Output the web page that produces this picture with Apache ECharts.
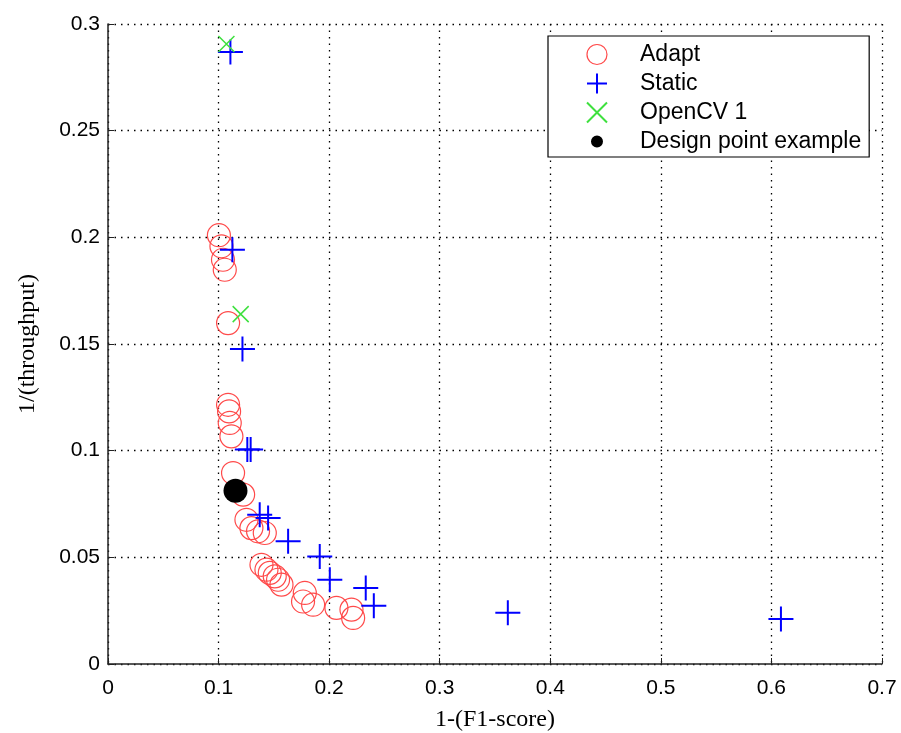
<!DOCTYPE html>
<html><head><meta charset="utf-8">
<script src="https://cdn.jsdelivr.net/npm/echarts@6/dist/echarts.min.js"></script>
<style>html,body{margin:0;padding:0;background:#fff}#c{width:901px;height:733px}</style>
</head><body><div id="c"></div>
<script>
const adaptX = [0.1003,0.1026,0.104,0.1056,0.1086,0.1086,0.1095,0.1101,0.1116,0.1131,0.1222,0.1252,0.1297,0.1357,0.1418,0.1388,0.1433,0.1463,0.1508,0.1538,0.1569,0.178,0.1764,0.1855,0.2066,0.2202,0.2217];
const adaptY = [0.201,0.1958,0.1895,0.1848,0.1598,0.1215,0.1184,0.113,0.1067,0.0895,0.0794,0.0676,0.0637,0.0622,0.0614,0.0465,0.0442,0.0427,0.0411,0.0395,0.0372,0.0333,0.0293,0.0278,0.0263,0.0255,0.0216];
const staticX = [0.1107,0.1125,0.1216,0.126,0.129,0.1372,0.1448,0.1629,0.1915,0.2006,0.2331,0.2404,0.3616,0.6086];
const staticY = [0.2869,0.1942,0.1477,0.1005,0.1005,0.070,0.0684,0.0575,0.0504,0.0395,0.0356,0.0273,0.024,0.0211];
const opencvX = [0.1071,0.120];
const opencvY = [0.2906,0.164];
const designX = [0.1153];
const designY = [0.0812];
const xTicks = [0,0.1,0.2,0.3,0.4,0.5,0.6,0.7];
const yTicks = [0,0.05,0.1,0.15,0.2,0.25,0.3];
const seriesNames = ['Adapt','Static','OpenCV 1','Design point example'];

const zip = (a,b) => a.map((v,i)=>[v,b[i]]);
const PLUS = 'path://M10,0 L10,20 M0,10 L20,10';
const CROSS = 'path://M0,0 L20,20 M20,0 L0,20';
const SMALL_DOT = 'path://M0,0 L0.01,0 M20,20 L20.01,20 M4,10 A6,6 0 1 1 16,10 A6,6 0 1 1 4,10 Z';
const grid = {left:108, top:24, right:19, bottom:69, containLabel:false, outerBoundsMode:'none'};
const splitLine = {show:true, lineStyle:{color:'#000', type:[1.5,5], width:1.3}};
const chart = echarts.init(document.getElementById('c'), null, {renderer:'canvas'});
chart.setOption({
  animation:false,
  backgroundColor:'#fff',
  grid: grid,
  legend: {
    orient:'vertical', left:548, top:36,
    data: [
      {name:seriesNames[0], itemStyle:{color:'rgba(255,255,255,0)', borderColor:'#ff4a4a', borderWidth:1.2}},
      {name:seriesNames[1]},
      {name:seriesNames[2]},
      {name:seriesNames[3], icon:SMALL_DOT, itemStyle:{color:'#000', borderWidth:0}}
    ],
    backgroundColor:'#fff', borderColor:'#000', borderWidth:1.2,
    padding:[7,8,4,38], itemGap:6, itemWidth:76, itemHeight:20,
    textStyle:{fontFamily:'Liberation Sans, Arial', fontSize:23, lineHeight:20, color:'#000'}
  },
  xAxis: {
    type:'value', min:0, max:0.7, interval:0.1,
    name:'1-(F1-score)', nameLocation:'middle', nameGap:44,
    nameTextStyle:{fontFamily:'Liberation Serif, Times New Roman', fontSize:24, color:'#000'},
    axisLine:{show:true, onZero:false, lineStyle:{color:'#222', width:1.5}},
    axisTick:{show:true, inside:true, length:6, lineStyle:{color:'#222'}},
    axisLabel:{fontFamily:'Liberation Sans, Arial', fontSize:21, color:'#000', margin:14,
      formatter: v => { const t = xTicks.find(x=>Math.abs(x-v)<1e-9); return t===undefined?'':String(t); }},
    splitLine: splitLine
  },
  yAxis: {
    type:'value', min:0, max:0.3, interval:0.05,
    name:'1/(throughput)', nameLocation:'middle', nameGap:68,
    nameTextStyle:{fontFamily:'Liberation Serif, Times New Roman', fontSize:24, color:'#000'},
    axisLine:{show:true, onZero:false, lineStyle:{color:'#222', width:1.5}},
    axisTick:{show:true, inside:true, length:6, lineStyle:{color:'#222'}},
    axisLabel:{fontFamily:'Liberation Sans, Arial', fontSize:21, color:'#000', margin:8,
      formatter: v => { const t = yTicks.find(x=>Math.abs(x-v)<1e-9); return t===undefined?'':String(t); }},
    splitLine: splitLine
  },
  series: [
    {name:seriesNames[0], type:'scatter', symbol:'circle', symbolSize:23, data:zip(adaptX,adaptY),
     itemStyle:{color:'rgba(255,255,255,0)', borderColor:'#ff4a4a', borderWidth:1.2, opacity:1}},
    {name:seriesNames[1], type:'scatter', symbol:PLUS, symbolSize:25, data:zip(staticX,staticY),
     itemStyle:{color:'rgba(255,255,255,0)', borderColor:'#0000ff', borderWidth:2, opacity:1}},
    {name:seriesNames[2], type:'scatter', symbol:CROSS, symbolSize:16, data:zip(opencvX,opencvY),
     itemStyle:{color:'rgba(255,255,255,0)', borderColor:'#3ee03e', borderWidth:1.5, opacity:1}},
    {name:seriesNames[3], type:'scatter', symbol:'circle', symbolSize:24, data:zip(designX,designY),
     itemStyle:{color:'#000', borderColor:'#000', borderWidth:0, opacity:1}}
  ]
});
</script></body></html>
